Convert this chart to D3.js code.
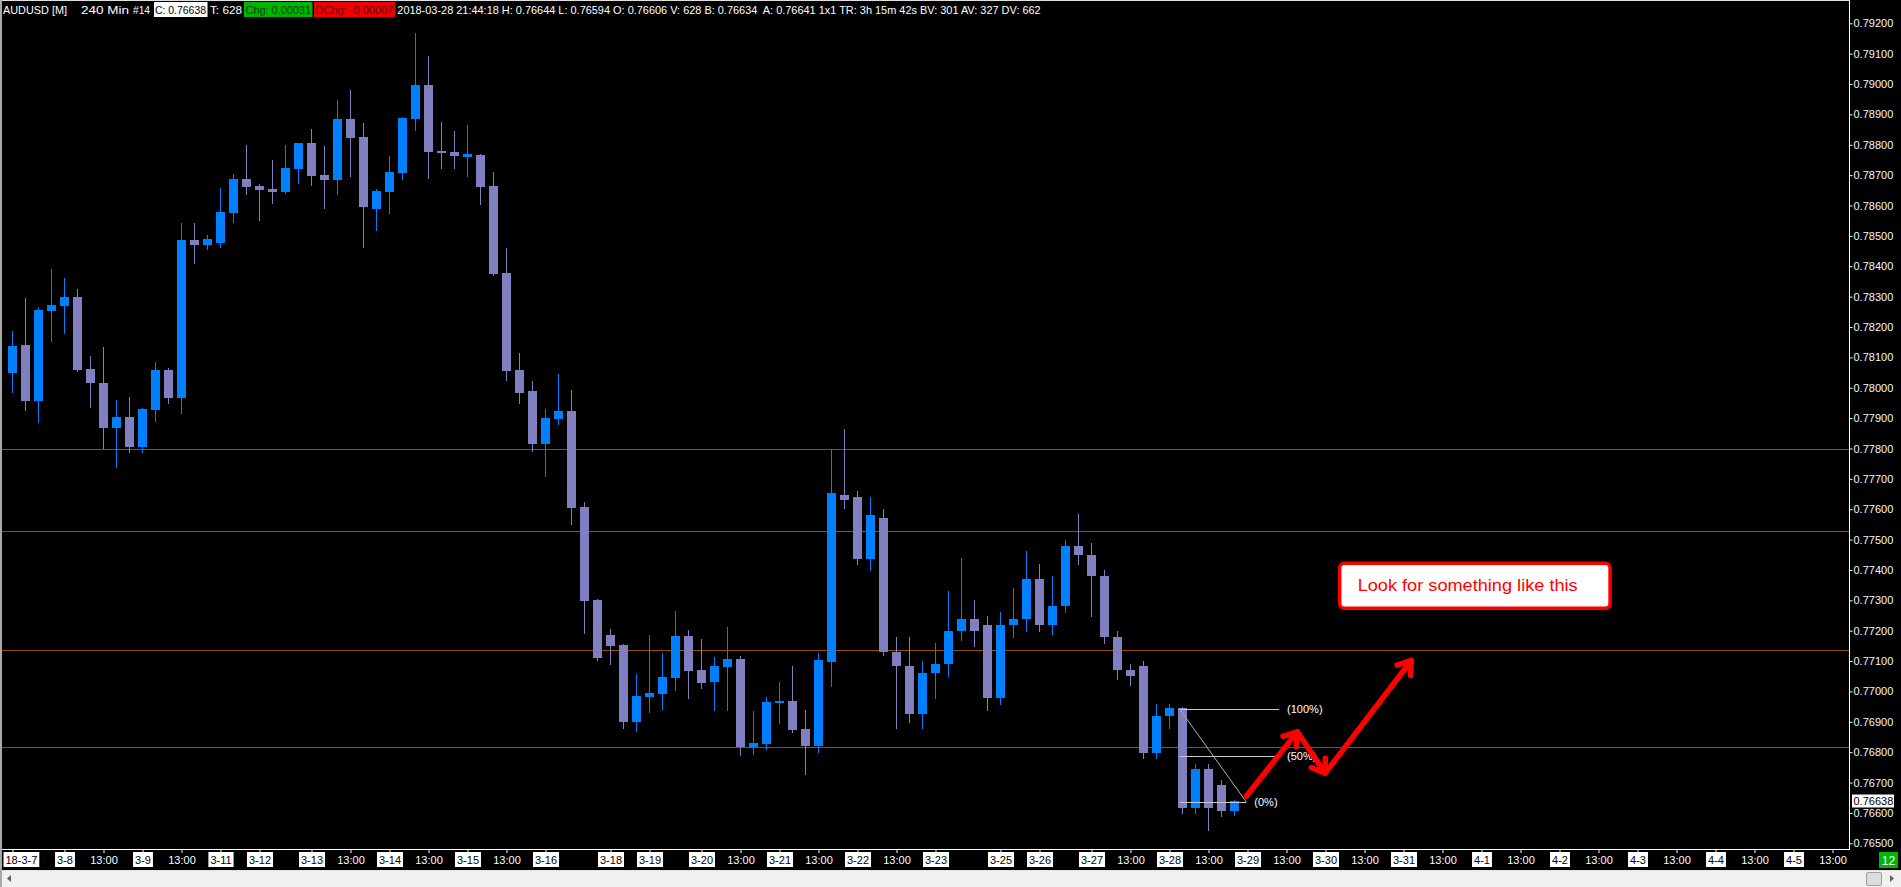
<!DOCTYPE html>
<html>
<head>
<meta charset="utf-8">
<title>AUDUSD 240 Min</title>
<script src="https://cdn.jsdelivr.net/npm/d3@7/dist/d3.min.js"></script>
<style>
  html, body { margin:0; padding:0; background:#000; overflow:hidden; }
  svg { display:block; }
  text { font-family: "Liberation Sans", Arial, sans-serif; }
</style>
</head>
<body>
<svg id="chart" width="1901" height="887"></svg>
<script>
// ---------------- DATA ----------------
const opens = [0.78050,0.78141,0.77956,0.78253,0.78269,0.78299,0.78062,0.78016,0.77867,0.77904,
0.77805,0.77927,0.78058,0.77966,0.78486,0.78470,0.78477,0.78575,0.78687,0.78664,
0.78654,0.78645,0.78720,0.78806,0.78701,0.78684,0.78885,0.78826,0.78589,0.78645,
0.78707,0.78885,0.78997,0.78780,0.78776,0.78760,0.78767,0.78664,0.78378,0.78059,
0.77989,0.77815,0.77897,0.77923,0.77607,0.77301,0.77186,0.77153,0.76899,0.76982,
0.76992,0.77044,0.77183,0.77071,0.77031,0.77080,0.77107,0.76817,0.76827,0.76962,
0.76969,0.76876,0.76820,0.77097,0.77648,0.77640,0.77436,0.77572,0.77129,0.77085,
0.76925,0.77060,0.77090,0.77200,0.77240,0.77220,0.76980,0.77220,0.77240,0.77370,
0.77220,0.77280,0.77480,0.77450,0.77380,0.77180,0.77070,0.77084,0.76796,0.76920,
0.76944,0.76616,0.76744,0.76692,0.76606];
const highs = [0.78187,0.78296,0.78265,0.78391,0.78361,0.78325,0.78105,0.78134,0.77960,0.77970,
0.77933,0.78085,0.78065,0.78542,0.78542,0.78503,0.78658,0.78704,0.78799,0.78671,
0.78750,0.78799,0.78806,0.78852,0.78796,0.78947,0.78980,0.78872,0.78654,0.78763,
0.78891,0.79168,0.79092,0.78875,0.78845,0.78865,0.78770,0.78710,0.78460,0.78114,
0.78022,0.77931,0.78045,0.77993,0.77623,0.77304,0.77206,0.77156,0.77057,0.77186,
0.77127,0.77265,0.77202,0.77173,0.77113,0.77212,0.77117,0.76936,0.76982,0.77031,
0.77084,0.76939,0.77127,0.77798,0.77864,0.77660,0.77640,0.77600,0.77180,0.77180,
0.77100,0.77160,0.77330,0.77440,0.77300,0.77250,0.77260,0.77340,0.77464,0.77420,
0.77380,0.77500,0.77584,0.77490,0.77400,0.77200,0.77090,0.77100,0.76960,0.76960,
0.76950,0.76760,0.76760,0.76710,0.76644];
const lows = [0.77987,0.77927,0.77888,0.78155,0.78181,0.78056,0.77937,0.77800,0.77740,0.77790,
0.77790,0.77890,0.77950,0.77917,0.78411,0.78457,0.78463,0.78546,0.78638,0.78552,
0.78608,0.78641,0.78674,0.78668,0.78592,0.78638,0.78697,0.78463,0.78519,0.78575,
0.78687,0.78849,0.78691,0.78724,0.78724,0.78697,0.78606,0.78371,0.78026,0.77950,
0.77792,0.77710,0.77881,0.77552,0.77192,0.77104,0.77090,0.76880,0.76870,0.76932,
0.76942,0.77005,0.76978,0.77011,0.76939,0.76939,0.76791,0.76794,0.76811,0.76896,
0.76867,0.76728,0.76801,0.77018,0.77604,0.77420,0.77400,0.77120,0.76880,0.76900,
0.76880,0.76980,0.77050,0.77170,0.77150,0.76940,0.76960,0.77180,0.77200,0.77200,
0.77190,0.77260,0.77420,0.77250,0.77160,0.77040,0.77020,0.76780,0.76780,0.76880,
0.76600,0.76600,0.76544,0.76590,0.76594];
const closes = [0.78137,0.77956,0.78256,0.78272,0.78299,0.78058,0.78016,0.77867,0.77904,0.77805,
0.77930,0.78058,0.77966,0.78486,0.78470,0.78490,0.78579,0.78687,0.78661,0.78651,
0.78645,0.78724,0.78806,0.78697,0.78684,0.78885,0.78822,0.78595,0.78648,0.78710,
0.78888,0.78997,0.78776,0.78773,0.78763,0.78768,0.78662,0.78375,0.78055,0.77983,
0.77815,0.77900,0.77923,0.77604,0.77297,0.77110,0.77150,0.76899,0.76985,0.76995,
0.77048,0.77183,0.77067,0.77028,0.77084,0.77107,0.76817,0.76830,0.76965,0.76969,
0.76873,0.76820,0.77104,0.77652,0.77632,0.77436,0.77580,0.77129,0.77085,0.76925,
0.77060,0.77090,0.77200,0.77240,0.77200,0.76980,0.77220,0.77240,0.77370,0.77220,
0.77280,0.77480,0.77450,0.77380,0.77180,0.77070,0.77050,0.76796,0.76920,0.76944,
0.76616,0.76744,0.76616,0.76606,0.76638];

const priceTicks = [0.765,0.766,0.767,0.768,0.769,0.770,0.771,0.772,0.773,0.774,0.775,0.776,0.777,0.778,
0.779,0.780,0.781,0.782,0.783,0.784,0.785,0.786,0.787,0.788,0.789,0.790,0.791,0.792];

const timeTickIndex = [0,4,7,10,13,16,19,23,26,29,32,35,38,41,46,49,53,56,59,62,65,68,71,76,79,83,86,89,92,
95,98,101,104,107,110,113,116,119,122,125,128,131,134,137,140];
const timeTickLabels = ["18-3-7","3-8","13:00","3-9","13:00","3-11","3-12","3-13","13:00","3-14","13:00","3-15","13:00","3-16","3-18","3-19","3-20","13:00","3-21","13:00","3-22","13:00","3-23","3-25","3-26","3-27","13:00","3-28","13:00",
"3-29","13:00","3-30","13:00","3-31","13:00","4-1","13:00","4-2","13:00","4-3","13:00","4-4","13:00","4-5","13:00"];

const levelLines = [0.77797, 0.77528, 0.77135, 0.76817];
const lastPrice = 0.76638;

const fibStartIdx = 89.78, fibEndIdx = 94.91, fibExtIdx = 97.43;
const fibHigh = 0.76942, fibLow = 0.76636;
const fibRatios = [1, 0.5, 0];
const fibLabels = ["(100%)", "(50%)", "(0%)"];

const arrowIdx = [94.91, 98.83, 100.98, 107.6];
const arrowPrice = [0.76655, 0.76867, 0.76731, 0.77102];

const noteText = "Look for something like this";
const noteIdx = [102.09, 122.89];
const notePrice = [0.77422, 0.77274];

const headerLeft = ["AUDUSD [M]", "240 Min", "#14"];
const headerClose = "C: 0.76638";
const headerTicks = "T: 628";
const headerChg = "Chg: 0.00031";
const headerDChg = "DChg: -0.00007";
const headerRest = "2018-03-28 21:44:18 H: 0.76644 L: 0.76594 O: 0.76606 V: 628 B: 0.76634  A: 0.76641 1x1 TR: 3h 15m 42s BV: 301 AV: 327 DV: 662";
const scrollCount = "12";

// ---------------- CHART ----------------
const W = 1901, H = 887;
const plotL = 2, plotR = 1849, plotB = 849;
const svg = d3.select("#chart");
svg.append("rect").attr("width", W).attr("height", H).attr("fill", "#000");

const x = d3.scaleLinear().domain([0, 94]).range([12.5, 1234.5]);
const y = d3.scaleLinear().domain([0.765, 0.792]).range([843.3, 23.3]);
const FONT = '"Liberation Sans", Arial, sans-serif';

svg.append("clipPath").attr("id", "plotclip")
  .append("rect").attr("x", plotL).attr("y", 0).attr("width", plotR - plotL).attr("height", plotB);
const plot = svg.append("g").attr("clip-path", "url(#plotclip)");

// horizontal levels
plot.selectAll("line.level").data(levelLines).join("line")
  .attr("class", "level")
  .attr("x1", plotL).attr("x2", plotR)
  .attr("y1", d => Math.round(y(d)) + 0.5).attr("y2", d => Math.round(y(d)) + 0.5)
  .attr("stroke", "#9a4b08").attr("stroke-width", 1);

// candles
const candles = d3.range(opens.length).map(i => ({
  i, o: opens[i], h: highs[i], l: lows[i], c: closes[i]
}));
const UP = "#0080ff", DOWN = "#8080c0";
const cg = plot.selectAll("g.candle").data(candles).join("g").attr("class", "candle");
cg.append("line")
  .attr("x1", d => x(d.i)).attr("x2", d => x(d.i))
  .attr("y1", d => Math.round(y(d.h))).attr("y2", d => Math.round(y(d.l)) + 1)
  .attr("stroke", d => d.c > d.o ? UP : DOWN).attr("stroke-width", 1);
cg.append("rect")
  .attr("x", d => x(d.i) - 4.5)
  .attr("width", 9)
  .attr("y", d => Math.round(y(Math.max(d.o, d.c))))
  .attr("height", d => Math.max(2, Math.round(y(Math.min(d.o, d.c))) - Math.round(y(Math.max(d.o, d.c)))))
  .attr("fill", d => d.c > d.o ? UP : DOWN);

// fib retracement
const fibG = plot.append("g");
const fibPrice = r => fibLow + (fibHigh - fibLow) * r;
fibG.selectAll("line.fib").data(fibRatios).join("line")
  .attr("x1", x(fibStartIdx))
  .attr("x2", d => d === 0 ? x(fibEndIdx) : x(fibExtIdx))
  .attr("y1", d => Math.round(y(fibPrice(d))) + 0.5).attr("y2", d => Math.round(y(fibPrice(d))) + 0.5)
  .attr("stroke", "#c8c8c8").attr("stroke-width", 1);
fibG.append("line")
  .attr("x1", x(fibStartIdx)).attr("y1", y(fibHigh))
  .attr("x2", x(fibEndIdx)).attr("y2", y(fibLow))
  .attr("stroke", "#b0b0b0").attr("stroke-width", 1);
fibG.selectAll("text").data(fibRatios).join("text")
  .attr("x", d => d === 0 ? x(fibEndIdx) + 8 : x(fibExtIdx) + 8)
  .attr("y", d => y(fibPrice(d)) + 4)
  .attr("fill", "#fff").attr("font-size", 11).attr("font-family", FONT)
  .text((d, i) => fibLabels[i]);

// red arrows
const ap = arrowIdx.map((d, i) => [x(d), y(arrowPrice[i])]);
const arrowG = plot.append("g").attr("stroke", "#ff0000").attr("stroke-width", 5.5)
  .attr("stroke-linecap", "round").attr("stroke-linejoin", "round").attr("fill", "none");
arrowG.append("path").attr("d", d3.line()(ap));
function head(from, to) {
  const ang = Math.atan2(to[1] - from[1], to[0] - from[0]);
  const L = 15, spread = 0.6;
  const a1 = [to[0] - L * Math.cos(ang - spread), to[1] - L * Math.sin(ang - spread)];
  const a2 = [to[0] - L * Math.cos(ang + spread), to[1] - L * Math.sin(ang + spread)];
  arrowG.append("path").attr("d", d3.line()([a1, to, a2]));
}
for (let k = 1; k < ap.length; k++) head(ap[k - 1], ap[k]);

// note box
const nb = { x0: x(noteIdx[0]), x1: x(noteIdx[1]), y0: y(notePrice[0]), y1: y(notePrice[1]) };
plot.append("rect")
  .attr("x", nb.x0).attr("y", nb.y0).attr("width", nb.x1 - nb.x0).attr("height", nb.y1 - nb.y0)
  .attr("rx", 5).attr("fill", "#fff").attr("stroke", "#ff0000").attr("stroke-width", 3.5);
plot.append("text")
  .attr("x", nb.x0 + 18).attr("y", (nb.y0 + nb.y1) / 2 + 5.5)
  .attr("fill", "#ff0000").attr("font-size", 16).attr("font-family", FONT)
  .attr("textLength", 220).attr("lengthAdjust", "spacingAndGlyphs")
  .text(noteText);

// borders
svg.append("line").attr("x1", plotL).attr("x2", plotR + 1).attr("y1", 0.5).attr("y2", 0.5).attr("stroke", "#e0e0e0");
svg.append("line").attr("x1", plotR + 0.5).attr("x2", plotR + 0.5).attr("y1", 0).attr("y2", plotB + 1).attr("stroke", "#fff");
svg.append("line").attr("x1", plotL).attr("x2", plotR + 1).attr("y1", plotB + 0.5).attr("y2", plotB + 0.5).attr("stroke", "#fff");
svg.append("rect").attr("x", 0).attr("y", 0).attr("width", 2).attr("height", 870).attr("fill", "#a8a8a8");

// Y axis
const yAxis = d3.axisRight(y).tickValues(priceTicks).tickFormat(d3.format(".5f"))
  .tickSize(3).tickSizeOuter(0).tickPadding(1);
const gy = svg.append("g").attr("transform", `translate(${plotR + 0.5},0)`).call(yAxis);
gy.select(".domain").remove();
gy.attr("font-family", FONT).attr("font-size", 11);
gy.selectAll(".tick line").attr("stroke", "#fff");
gy.selectAll(".tick text").attr("fill", "#f4f8ff");

// last price label
const lp = y(lastPrice);
svg.append("rect").attr("x", 1852).attr("y", Math.round(lp) - 6.5).attr("width", 42).attr("height", 13).attr("fill", "#fff");
svg.append("text").attr("x", 1853.5).attr("y", lp + 4).attr("fill", "#000")
  .attr("font-size", 11).attr("font-family", FONT).text(d3.format(".5f")(lastPrice));

// X axis
const xAxis = d3.axisBottom(x).tickValues(timeTickIndex).tickFormat((d, i) => timeTickLabels[i])
  .tickSize(4).tickSizeOuter(0).tickPadding(2);
const gx = svg.append("g").attr("transform", `translate(0,${plotB})`).call(xAxis);
gx.select(".domain").remove();
gx.attr("font-family", FONT).attr("font-size", 11);
gx.selectAll(".tick line").attr("stroke", "#fff");
gx.selectAll(".tick text").attr("dy", null).attr("y", 14.5).attr("fill", "#fff");
gx.selectAll(".tick").each(function(d, i) {
  const lab = timeTickLabels[i];
  const t = d3.select(this).select("text");
  const bb = t.node().getBBox();
  let shift = 0;
  const absLeft = x(d) + bb.x - 2;
  if (absLeft < 3) shift = 3 - absLeft;
  if (shift) t.attr("x", shift);
  if (lab !== "13:00") {
    t.attr("fill", "#000");
    d3.select(this).insert("rect", "text")
      .attr("x", bb.x - 2 + shift).attr("y", 3).attr("width", bb.width + 4).attr("height", 15)
      .attr("fill", "#fff");
  }
});

// scroll count badge
svg.append("rect").attr("x", 1879).attr("y", 852).attr("width", 19).attr("height", 16).attr("fill", "#00b400");
svg.append("text").attr("x", 1888.5).attr("y", 864.5).attr("text-anchor", "middle").attr("fill", "#fff")
  .attr("font-size", 12).attr("font-family", FONT).text(scrollCount);

// scrollbar
svg.append("rect").attr("x", 0).attr("y", 870).attr("width", W).attr("height", 17).attr("fill", "#f0f0f0");
svg.append("line").attr("x1", 0).attr("x2", W).attr("y1", 870.5).attr("y2", 870.5).attr("stroke", "#e2e2e2");
svg.append("rect").attr("x", 0).attr("y", 870).attr("width", 2).attr("height", 17).attr("fill", "#a8a8a8");
svg.append("path").attr("d", "M11,875 L7,878.5 L11,882 Z").attr("fill", "#606060");
svg.append("rect").attr("x", 1866.5).attr("y", 872.5).attr("width", 15).attr("height", 13).attr("rx", 1.5)
  .attr("fill", "#dcdcdc").attr("stroke", "#a0a0a0");
svg.append("path").attr("d", "M1890,875 L1894,878.5 L1890,882 Z").attr("fill", "#606060");

// header
const hdr = svg.append("g").attr("font-family", FONT).attr("font-size", 11);
const hText = (str, x0, len, fill) => hdr.append("text").attr("x", x0).attr("y", 13.5)
  .attr("fill", fill).attr("textLength", len).attr("lengthAdjust", "spacingAndGlyphs")
  .attr("xml:space", "preserve").text(str);
hText(headerLeft[0], 3, 64, "#fff");
hText(headerLeft[1], 81, 48, "#fff");
hText(headerLeft[2], 133, 17, "#fff");
hdr.append("rect").attr("x", 154).attr("y", 2).attr("width", 53.5).attr("height", 15).attr("fill", "#fff");
hText(headerClose, 155, 51, "#000");
hText(headerTicks, 210, 32, "#fff");
hdr.append("rect").attr("x", 244).attr("y", 2).attr("width", 68.5).attr("height", 15).attr("fill", "#00b400");
hText(headerChg, 245.5, 65.5, "#004000");
hdr.append("rect").attr("x", 314).attr("y", 2).attr("width", 81).attr("height", 15).attr("fill", "#f00000");
hText(headerDChg, 315.5, 78, "#6a0000");
hText(headerRest, 397.3, 643.4, "#fff");
</script>
</body>
</html>
